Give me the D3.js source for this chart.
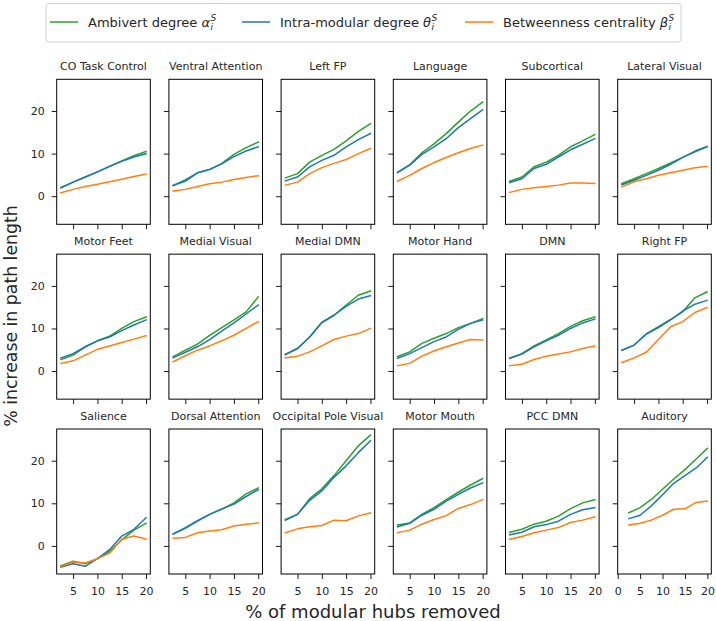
<!DOCTYPE html>
<html>
<head>
<meta charset="utf-8">
<script src="https://cdn.jsdelivr.net/npm/d3@7"></script>
<style>
  html, body { margin: 0; padding: 0; background: #fff; }
  svg { display: block; font-family: "DejaVu Sans", sans-serif; }
</style>
</head>
<body>
<svg id="chart" width="716" height="621"></svg>
<script>
// ---------------- data ----------------
const xValues = [2.5, 5, 7.5, 10, 12.5, 15, 17.5, 20];

const modules = [
  "CO Task Control", "Ventral Attention", "Left FP", "Language", "Subcortical", "Lateral Visual",
  "Motor Feet", "Medial Visual", "Medial DMN", "Motor Hand", "DMN", "Right FP",
  "Salience", "Dorsal Attention", "Occipital Pole Visual", "Motor Mouth", "PCC DMN", "Auditory"
];

const ambivertDegree = [
  [2.0, 3.3, 4.5, 5.7, 7.0, 8.3, 9.5, 10.5],
  [2.5, 3.5, 5.5, 6.25, 7.7, 9.8, 11.4, 12.7],
  [4.3, 5.3, 8.0, 9.6, 11.0, 13.0, 15.2, 17.0],
  [5.6, 7.4, 10.2, 12.3, 14.7, 17.4, 20.0, 22.1],
  [3.5, 4.5, 6.9, 8.0, 9.6, 11.6, 13.0, 14.5],
  [3.0, 4.1, 5.3, 6.5, 7.8, 9.1, 10.6, 11.7],
  [2.7, 3.75, 5.7, 7.1, 8.2, 10.0, 11.6, 12.7],
  [3.4, 4.9, 6.3, 8.4, 10.2, 12.0, 13.9, 17.4],
  [3.9, 5.3, 8.0, 11.4, 13.1, 15.5, 17.8, 18.8],
  [3.4, 4.5, 6.5, 7.7, 8.8, 10.2, 11.2, 12.3],
  [3.0, 4.1, 5.9, 7.3, 8.8, 10.5, 11.8, 12.7],
  [4.9, 6.1, 8.7, 10.4, 12.1, 13.9, 17.2, 18.6],
  [-4.65, -3.6, -4.2, -3.0, -1.3, 1.4, 3.7, 5.3],
  [2.8, 4.1, 5.8, 7.4, 8.6, 10.1, 12.2, 13.6],
  [6.2, 7.4, 11.1, 13.4, 16.5, 20.0, 23.5, 26.0],
  [4.9, 5.4, 7.4, 9.0, 10.85, 12.6, 14.3, 15.8],
  [3.2, 3.9, 5.1, 5.8, 7.0, 8.75, 10.1, 10.85],
  [7.8, 9.0, 10.9, 13.3, 15.7, 17.9, 20.4, 22.9]
];

const intraModularDegree = [
  [2.0, 3.3, 4.5, 5.7, 7.0, 8.2, 9.2, 10.0],
  [2.5, 3.8, 5.5, 6.3, 7.6, 9.3, 10.6, 11.6],
  [3.6, 4.5, 6.9, 8.4, 9.6, 11.6, 13.3, 14.7],
  [5.6, 7.3, 9.8, 11.6, 13.5, 16.1, 18.2, 20.3],
  [3.2, 4.1, 6.5, 7.5, 9.2, 10.9, 12.2, 13.5],
  [2.7, 3.75, 4.9, 6.1, 7.5, 9.1, 10.4, 11.6],
  [3.1, 4.1, 5.7, 7.1, 8.0, 9.5, 10.8, 12.0],
  [3.1, 4.4, 5.7, 7.4, 9.4, 11.3, 13.4, 15.5],
  [3.9, 5.3, 8.0, 11.4, 13.1, 15.2, 16.9, 17.7],
  [3.0, 4.1, 5.5, 6.9, 8.0, 9.8, 11.2, 12.0],
  [3.0, 4.0, 5.7, 7.1, 8.4, 10.0, 11.3, 12.2],
  [4.9, 6.1, 8.7, 10.2, 12.0, 14.1, 15.7, 16.6],
  [-5.0, -4.2, -4.8, -3.0, -0.9, 2.3, 3.9, 6.6],
  [2.8, 4.3, 5.9, 7.4, 8.7, 9.8, 11.6, 13.2],
  [6.05, 7.4, 10.7, 12.9, 16.1, 18.8, 21.9, 24.7],
  [4.5, 5.3, 7.2, 8.6, 10.5, 12.1, 13.6, 14.8],
  [2.6, 3.2, 4.5, 5.0, 5.8, 7.4, 8.5, 9.0],
  [6.4, 7.2, 9.4, 12.0, 14.7, 16.5, 18.3, 20.8]
];

const betweennessCentrality = [
  [0.8, 1.6, 2.3, 2.8, 3.4, 4.0, 4.6, 5.2],
  [1.2, 1.6, 2.3, 2.9, 3.3, 3.9, 4.4, 4.8],
  [2.6, 3.3, 5.3, 6.7, 7.7, 8.6, 10.0, 11.2],
  [3.5, 4.9, 6.5, 7.9, 9.1, 10.2, 11.2, 12.0],
  [0.9, 1.6, 2.0, 2.3, 2.6, 3.1, 3.1, 3.0],
  [2.2, 3.4, 4.1, 4.9, 5.5, 6.1, 6.7, 7.0],
  [1.8, 2.4, 3.75, 5.1, 5.9, 6.7, 7.5, 8.3],
  [2.2, 3.6, 4.9, 5.9, 7.1, 8.4, 10.0, 11.6],
  [3.1, 3.5, 4.5, 5.9, 7.4, 8.2, 8.8, 10.0],
  [1.25, 1.8, 3.5, 4.7, 5.7, 6.6, 7.4, 7.3],
  [1.25, 1.6, 2.7, 3.5, 4.0, 4.5, 5.3, 5.9],
  [2.0, 3.1, 4.4, 7.4, 10.4, 11.6, 13.75, 14.9],
  [-4.8, -3.8, -4.0, -3.0, -1.7, 1.55, 2.3, 1.6],
  [1.8, 2.0, 3.1, 3.5, 3.8, 4.65, 5.1, 5.4],
  [3.1, 4.0, 4.5, 4.8, 6.05, 5.9, 7.05, 7.75],
  [3.1, 3.7, 5.1, 6.2, 7.1, 8.8, 9.7, 10.85],
  [1.55, 2.2, 3.1, 3.7, 4.3, 5.5, 6.05, 6.8],
  [4.9, 5.3, 6.05, 7.2, 8.6, 8.7, 10.2, 10.5]
];

const yTicks = [0, 10, 20];
const xTicks = [5, 10, 15, 20];
const xTicksAuditory = [0, 5, 10, 15, 20];

const seriesNames = ["Ambivert degree", "Intra-modular degree", "Betweenness centrality"];
const seriesSymbols = ["α", "θ", "β"];
const seriesColors = ["#2ca02c", "#1f77b4", "#ff7f0e"];
const seriesData = [ambivertDegree, intraModularDegree, betweennessCentrality];

// ---------------- layout ----------------
const svg = d3.select("#chart");
const nCols = 6, nRows = 3;
const left0 = 56.7, colPitch = 112.2, panelW = 93.6;
const top0 = 79.3, rowPitch = 174.85, panelH = 145;
const tickFont = 11, titleFont = 11;
const textColor = "#262626";

const yScale = d3.scaleLinear().domain([-6.6, 27.45]).range([panelH, 0]);
const xScaleStd = d3.scaleLinear().domain([1.625, 20.875]).range([0, panelW]);
const xScaleAud = d3.scaleLinear().domain([0, 20.875]).range([0, panelW]);

modules.forEach((name, i) => {
  const r = Math.floor(i / nCols), c = i % nCols;
  const g = svg.append("g").attr("transform", `translate(${left0 + c * colPitch},${top0 + r * rowPitch})`);
  const isAud = name === "Auditory";
  const xs = isAud ? xScaleAud : xScaleStd;

  // lines
  seriesData.forEach((sd, k) => {
    const line = d3.line().x((d, j) => xs(xValues[j])).y(d => yScale(d));
    g.append("path").datum(sd[i]).attr("d", line)
      .attr("fill", "none").attr("stroke", seriesColors[k])
      .attr("stroke-width", 1.5).attr("stroke-linejoin", "round").attr("stroke-linecap", "square");
  });

  // axes
  const xAxis = d3.axisBottom(xs).tickValues(isAud ? xTicksAuditory : xTicks)
    .tickSize(5).tickPadding(8.5).tickFormat(r === nRows - 1 ? d3.format("d") : () => "");
  const gx = g.append("g").attr("transform", `translate(0,${panelH})`).call(xAxis);
  const yAxis = d3.axisLeft(yScale).tickValues(yTicks)
    .tickSize(5).tickPadding(7).tickFormat(c === 0 ? d3.format("d") : () => "");
  const gy = g.append("g").call(yAxis);
  [gx, gy].forEach(a => {
    a.select(".domain").remove();
    a.selectAll(".tick line").attr("stroke", "#000").attr("stroke-width", 0.9);
    a.selectAll(".tick text").attr("font-size", tickFont).attr("fill", textColor)
      .attr("font-family", "DejaVu Sans");
  });

  // frame
  g.append("rect").attr("width", panelW).attr("height", panelH)
    .attr("fill", "none").attr("stroke", "#000").attr("stroke-width", 1);

  // title
  g.append("text").attr("x", panelW / 2).attr("y", -9.5)
    .attr("text-anchor", "middle").attr("font-size", titleFont).attr("fill", textColor)
    .text(name);
});

// axis labels
svg.append("text").attr("x", 373).attr("y", 618).attr("text-anchor", "middle")
  .attr("font-size", 18).attr("fill", textColor).text("% of modular hubs removed");
svg.append("text").attr("transform", "translate(16.5,316) rotate(-90)").attr("text-anchor", "middle")
  .attr("font-size", 17.3).attr("fill", textColor).text("% increase in path length");

// legend
const lg = svg.append("g");
lg.append("rect").attr("x", 46).attr("y", 3.5).attr("width", 635).attr("height", 38.5)
  .attr("rx", 3).attr("fill", "#fff").attr("stroke", "#d0d0d0").attr("stroke-width", 1);
const legendX = [50, 242, 465];
const legendY = 22;
seriesNames.forEach((nm, k) => {
  const x0 = legendX[k];
  lg.append("line").attr("x1", x0).attr("x2", x0 + 28).attr("y1", legendY).attr("y2", legendY)
    .attr("stroke", seriesColors[k]).attr("stroke-width", 1.5);
  const t = lg.append("text").attr("x", x0 + 38).attr("y", legendY + 4.5)
    .attr("font-size", 13).attr("fill", textColor);
  t.append("tspan").text(nm + " ");
  t.append("tspan").attr("font-style", "italic").text(seriesSymbols[k]);
  const w = t.node().getComputedTextLength();
  const sx = x0 + 38 + w + 0.5;
  lg.append("text").attr("x", sx).attr("y", legendY - 1.5).attr("font-size", 9)
    .attr("font-style", "italic").attr("fill", textColor).text("S");
  lg.append("text").attr("x", sx).attr("y", legendY + 8).attr("font-size", 9)
    .attr("font-style", "italic").attr("fill", textColor).text("i");
});
</script>
</body>
</html>
